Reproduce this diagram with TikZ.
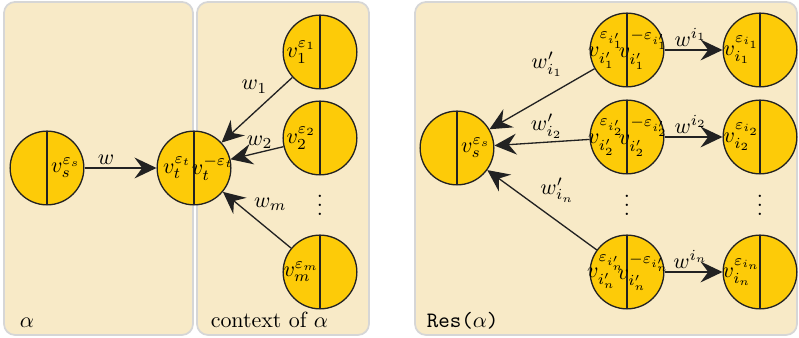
\documentclass[tikz,border=0pt]{standalone}
\usepackage{amsmath, amssymb}
\usepackage{xcolor}
\usepackage{tikz}
\usetikzlibrary{arrows.meta,positioning,calc}
\definecolor{panelfill}{HTML}{F8EAC7}
\definecolor{panelline}{HTML}{D6D6D6}
\definecolor{nodegold}{HTML}{FDCB08}
\definecolor{inkline}{HTML}{222222}

\begin{document}
\begin{tikzpicture}[x=0.016cm, y=-0.016cm,
    panel/.style={fill=panelfill, draw=panelline, line width=0.8pt, rounded corners=5pt},
    halfnode/.style={circle, draw=inkline, fill=nodegold, line width=0.6pt,
      minimum size=1.18cm, inner sep=0pt,
      path picture={\draw[inkline, line width=0.6pt]
        (path picture bounding box.north) -- (path picture bounding box.south);}},
    halftxt/.style={inner sep=0pt},
    wire/.style={draw=inkline, line width=0.6pt, -{Stealth[length=10pt, width=9.5pt, inset=3.5pt]}},
    wlbl/.style={inner sep=1.5pt}]
    \useasboundingbox (0,0) rectangle (799,338);
    % panels
    \draw[panel] (4,2) rectangle (193,335);
    \draw[panel] (197,2) rectangle (369,335);
    \draw[panel] (415,2) rectangle (797,335);
    \node[anchor=base west] (lalpha) at (12,328) {$\alpha$};
    \node[anchor=base west] (lctx) at (203,328) {context of $\alpha$};
    \node[anchor=base west] (lres) at (419,328) {\texttt{Res(}$\alpha$\texttt{)}};

    % alpha and its context
    \node[halfnode] (src) at (47,168) {};
    \node[halfnode] (tgt) at (194,168) {};
    \node[halfnode] (ctx1) at (320,52) {};
    \node[halfnode] (ctx2) at (320,138) {};
    \node[halfnode] (ctxm) at (320,272) {};
    \node (ctxdots) at (320,199) {$\vdots$};
    \node[halftxt] at ([xshift=0.3cm]src.center) {$v_s^{\varepsilon_s}$};
    \node[halftxt] at ([xshift=-0.27cm]tgt.center) {$v_t^{\varepsilon_t}$};
    \node[halftxt] at ([xshift=0.3cm]tgt.center) {$v_t^{-\varepsilon_t}$};
    \node[halftxt] at ([xshift=-0.3cm]ctx1.center) {$v_1^{\varepsilon_1}$};
    \node[halftxt] at ([xshift=-0.3cm]ctx2.center) {$v_2^{\varepsilon_2}$};
    \node[halftxt] at ([xshift=-0.3cm]ctxm.center) {$v_m^{\varepsilon_m}$};
    \draw[wire] (src) -- node[wlbl, pos=0.3, above] {$w$} (tgt);
    \draw[wire] (ctx1) -- node[wlbl, pos=0.3, above left] {$w_1$} (tgt);
    \draw[wire] (ctx2) -- node[wlbl, pos=0.45, above] {$w_2$} (tgt);
    \draw[wire] (ctxm) -- node[wlbl, pos=0.6, above right] {$w_m$} (tgt);

    % Res(alpha)
    \node[halfnode] (rsrc) at (457,148) {};
    \node[halfnode] (rp1) at (627,50) {};
    \node[halfnode] (rp2) at (627,137) {};
    \node[halfnode] (rpn) at (627,272) {};
    \node[halfnode] (rq1) at (760,50) {};
    \node[halfnode] (rq2) at (760,137) {};
    \node[halfnode] (rqn) at (760,272) {};
    \node (rpdots) at (627,199) {$\vdots$};
    \node (rqdots) at (760,199) {$\vdots$};
    \node[halftxt] at ([xshift=0.3cm]rsrc.center) {$v_s^{\varepsilon_s}$};
    \node[halftxt] at ([xshift=-0.33cm]rp1.center) {$v_{i'_1}^{\varepsilon_{i'_1}}$};
    \node[halftxt] at ([xshift=0.27cm]rp1.center) {$v_{i'_1}^{-\varepsilon_{i'_1}}$};
    \node[halftxt] at ([xshift=-0.33cm]rp2.center) {$v_{i'_2}^{\varepsilon_{i'_2}}$};
    \node[halftxt] at ([xshift=0.27cm]rp2.center) {$v_{i'_2}^{-\varepsilon_{i'_2}}$};
    \node[halftxt] at ([xshift=-0.33cm]rpn.center) {$v_{i'_n}^{\varepsilon_{i'_n}}$};
    \node[halftxt] at ([xshift=0.27cm]rpn.center) {$v_{i'_n}^{-\varepsilon_{i'_n}}$};
    \node[halftxt] at ([xshift=-0.29cm]rq1.center) {$v_{i_1}^{\varepsilon_{i_1}}$};
    \node[halftxt] at ([xshift=-0.29cm]rq2.center) {$v_{i_2}^{\varepsilon_{i_2}}$};
    \node[halftxt] at ([xshift=-0.29cm]rqn.center) {$v_{i_n}^{\varepsilon_{i_n}}$};
    \draw[wire] (rp1) -- node[wlbl, pos=0.45, above=7pt] {$w'_{i_1}$} (rsrc);
    \draw[wire] (rp2) -- node[wlbl, pos=0.45, above] {$w'_{i_2}$} (rsrc);
    \draw[wire] (rpn) -- node[wlbl, pos=0.55, above right] {$w'_{i_n}$} (rsrc);
    \draw[wire] (rp1) -- node[wlbl, pos=0.45, above] {$w^{i_1}$} (rq1);
    \draw[wire] (rp2) -- node[wlbl, pos=0.45, above] {$w^{i_2}$} (rq2);
    \draw[wire] (rpn) -- node[wlbl, pos=0.45, above] {$w^{i_n}$} (rqn);
\end{tikzpicture}
\end{document}
